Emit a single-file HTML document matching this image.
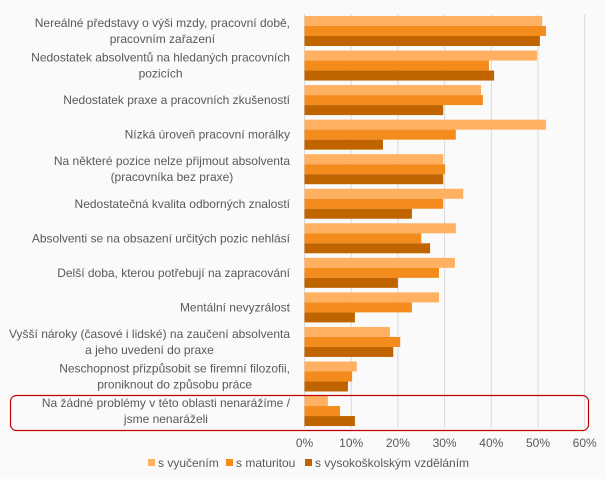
<!DOCTYPE html>
<html><head><meta charset="utf-8"><style>
body{margin:0;background:#fafafa;}
svg{display:block;font-family:"Liberation Sans",sans-serif;}
text{fill:#595959;font-size:12px;}
</style></head><body>
<svg id="s" width="605" height="479" viewBox="0 0 605 479">
<rect width="605" height="479" fill="#fafafa"/>
<g stroke="#d9d9d9" stroke-width="1">
<line x1="304.5" y1="14" x2="304.5" y2="428"/>
<line x1="351.2" y1="14" x2="351.2" y2="428"/>
<line x1="397.9" y1="14" x2="397.9" y2="428"/>
<line x1="444.6" y1="14" x2="444.6" y2="428"/>
<line x1="491.3" y1="14" x2="491.3" y2="428"/>
<line x1="538" y1="14" x2="538" y2="428"/>
<line x1="584.7" y1="14" x2="584.7" y2="428"/>
</g>
<g id="bars"></g>
<rect x="10.5" y="395.5" width="578" height="35" rx="6" fill="none" stroke="#c00000" stroke-width="1.2"/>
<g id="labels">
<text><tspan>Nereálné představy o výši mzdy, pracovní době,</tspan><tspan>pracovním zařazení</tspan></text>
<text><tspan>Nedostatek absolventů na hledaných pracovních</tspan><tspan>pozicích</tspan></text>
<text><tspan>Nedostatek praxe a pracovních zkušeností</tspan></text>
<text><tspan>Nízká úroveň pracovní morálky</tspan></text>
<text><tspan>Na některé pozice nelze přijmout absolventa</tspan><tspan>(pracovníka bez praxe)</tspan></text>
<text><tspan>Nedostatečná kvalita odborných znalostí</tspan></text>
<text><tspan>Absolventi se na obsazení určitých pozic nehlásí</tspan></text>
<text><tspan>Delší doba, kterou potřebují na zapracování</tspan></text>
<text><tspan>Mentální nevyzrálost</tspan></text>
<text><tspan>Vyšší nároky (časové i lidské) na zaučení absolventa</tspan><tspan>a jeho uvedení do praxe</tspan></text>
<text><tspan>Neschopnost přizpůsobit se firemní filozofii,</tspan><tspan>proniknout do způsobu práce</tspan></text>
<text><tspan>Na žádné problémy v této oblasti nenarážíme /</tspan><tspan>jsme nenaráželi</tspan></text>
</g>
<g text-anchor="middle">
<text x="304.5" y="447">0%</text>
<text x="351.2" y="447">10%</text>
<text x="397.9" y="447">20%</text>
<text x="444.6" y="447">30%</text>
<text x="491.3" y="447">40%</text>
<text x="538" y="447">50%</text>
<text x="584.7" y="447">60%</text>
</g>
<rect x="148" y="459" width="7" height="7" fill="#ffb061"/>
<text x="158" y="467">s vyučením</text>
<rect x="226" y="459" width="7" height="7" fill="#f38c1c"/>
<text x="236" y="467">s maturitou</text>
<rect x="305" y="459" width="7" height="7" fill="#c06400"/>
<text x="315" y="467">s vysokoškolským vzděláním</text>
</svg>
<script>
var d=[[50.9,51.7,50.4],[49.8,39.5,40.6],[37.8,38.2,29.7],[51.7,32.4,16.8],[29.7,30.1,29.7],[34,29.7,23],[32.4,25,26.9],[32.2,28.8,20],[28.8,23,10.8],[18.3,20.5,19],[11.2,10.2,9.3],[5,7.6,10.8]];
var c=["#ffb061","#f38c1c","#c06400"],ns="http://www.w3.org/2000/svg",g=document.getElementById("bars");
d.forEach(function(r,i){var y0=16+i*34.55;r.forEach(function(v,j){var e=document.createElementNS(ns,"rect");e.setAttribute("x",304.5);e.setAttribute("y",y0+j*10);e.setAttribute("width",v*4.67);e.setAttribute("height",10);e.setAttribute("fill",c[j]);g.appendChild(e);});});
var ts=document.querySelectorAll("#labels text");
ts.forEach(function(t,i){var sp=t.querySelectorAll("tspan"),mid=16+i*34.55+15,n=sp.length,w=0;
sp.forEach(function(s){w=Math.max(w,s.getComputedTextLength());});
var cx=290-w/2;t.setAttribute("text-anchor","middle");
sp.forEach(function(s,k){s.setAttribute("x",cx);s.setAttribute("y",mid+4+(k-(n-1)/2)*16);});});
</script>
</body></html>
